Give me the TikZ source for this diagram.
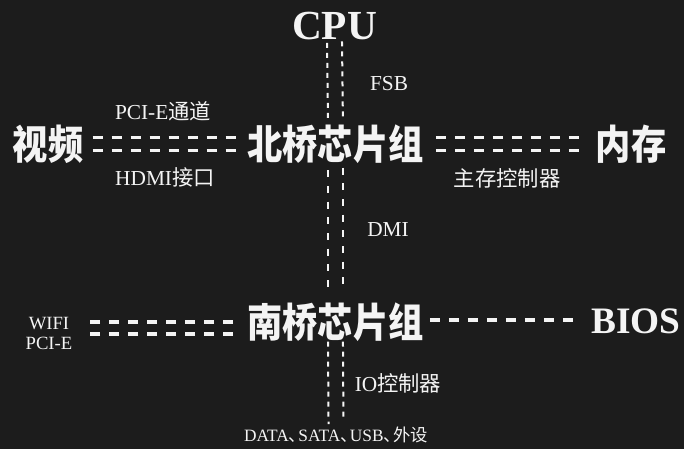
\documentclass[tikz,border=0pt]{standalone}
\usepackage{fontspec}
\setmainfont{Liberation Serif}
\newfontfamily\cjk{Noto Sans CJK SC}
\usetikzlibrary{positioning}
\definecolor{boardBlack}{HTML}{1C1C1C}
\definecolor{chalk}{HTML}{F4F4F4}
\newcommand{\dunhao}{{\cjk 、}\kern-.45em}
\newcommand{\tallcn}[1]{\scalebox{0.98}[1.12]{#1}}

\begin{document}
\begin{tikzpicture}[x=0.75pt, y=-0.75pt,
    every node/.style={text=chalk, inner sep=0pt, align=center},
    chip/.style={font=\cjk\bfseries\fontsize{27}{30}\selectfont},
    part/.style={font=\bfseries\fontsize{31}{34}\selectfont},
    tag/.style={font=\fontsize{16}{18}\selectfont},
    bus/.style={chalk, line width=2.4pt, dash pattern=on 7.5pt off 6.75pt},
    lane/.style={chalk, line width=1.5pt, dash pattern=on 3.75pt off 3.75pt},
    widelane/.style={chalk, line width=1.9pt, dash pattern=on 5.25pt off 6.5pt}]
    \fill[boardBlack] (0,0) rectangle (684,449);

    % chips and parts
    \node[part] (cpu) at (334.5,26) {CPU};
    \node[chip] (nb) at (335.5,144) {\tallcn{北桥芯片组}};
    \node[chip] (vid) at (48,144) {\tallcn{视频}};
    \node[chip] (mem) at (631,144) {\tallcn{内存}};
    \node[chip] (sb) at (335.5,322) {\tallcn{南桥芯片组}};
    \node[part, font=\bfseries\fontsize{28}{30}\selectfont] (bios) at (636,321) {BIOS};
    \node[tag, font=\fontsize{14}{15}\selectfont] (wifi) at (49,333) {WIFI\\PCI-E};
    \node[tag, font=\fontsize{13}{15}\selectfont] (periph) at (336,435) {DATA\dunhao SATA\dunhao USB\dunhao{\cjk 外设}};

    % bus labels
    \node[tag] (fsb) at (389,84) {FSB};
    \node[tag] (pcie) at (163,111) {PCI-E{\cjk 通道}};
    \node[tag] (hdmi) at (165,177) {HDMI{\cjk 接口}};
    \node[tag] (mc) at (507,178) {\cjk 主存控制器};
    \node[tag] (dmi) at (388,230) {DMI};
    \node[tag] (io) at (398,383) {IO{\cjk 控制器}};

    % vertical links
    \draw[lane, shorten <=2pt, shorten >=4pt] ([xshift=-5.6pt]cpu.south) -- ([xshift=-5.6pt]nb.north);
    \draw[lane, shorten <=1pt, shorten >=6pt] ([xshift=5.6pt]cpu.south) -- ([xshift=5.6pt]nb.north);
    \draw[widelane, shorten <=5pt, shorten >=9pt] ([xshift=-5.6pt]nb.south) -- ([xshift=-5.6pt]sb.north);
    \draw[widelane, shorten <=3pt, shorten >=11pt] ([xshift=5.6pt]nb.south) -- ([xshift=5.6pt]sb.north);
    \draw[lane, shorten >=2pt] ([xshift=-5.6pt]sb.south) -- ([xshift=-5.6pt]periph.north);
    \draw[lane, shorten >=5pt] ([xshift=5.6pt]sb.south) -- ([xshift=5.6pt]periph.north);

    % horizontal links
    \draw[bus, shorten <=6.75pt, shorten >=6.75pt] ([yshift=4.9pt]vid.east) -- ([yshift=4.9pt]nb.west);
    \draw[bus, shorten <=6.75pt, shorten >=6.75pt] ([yshift=-4.9pt]vid.east) -- ([yshift=-4.9pt]nb.west);
    \draw[bus, shorten <=9pt, shorten >=9.75pt] ([yshift=4.9pt]nb.east) -- ([yshift=4.9pt]mem.west);
    \draw[bus, shorten <=9pt, shorten >=9.75pt] ([yshift=-4.9pt]nb.east) -- ([yshift=-4.9pt]mem.west);
    \draw[bus, shorten <=10.5pt, shorten >=13pt] (sb.west) -- (sb.west -| wifi.east);
    \draw[bus, shorten <=10.5pt, shorten >=13pt] ([yshift=-9pt]sb.west) -- ([yshift=-9pt]sb.west -| wifi.east);
    \draw[bus, shorten <=4.5pt, shorten >=9.75pt] ([yshift=1.5pt]sb.east) -- ([yshift=1.5pt]sb.east -| bios.west);
\end{tikzpicture}
\end{document}
